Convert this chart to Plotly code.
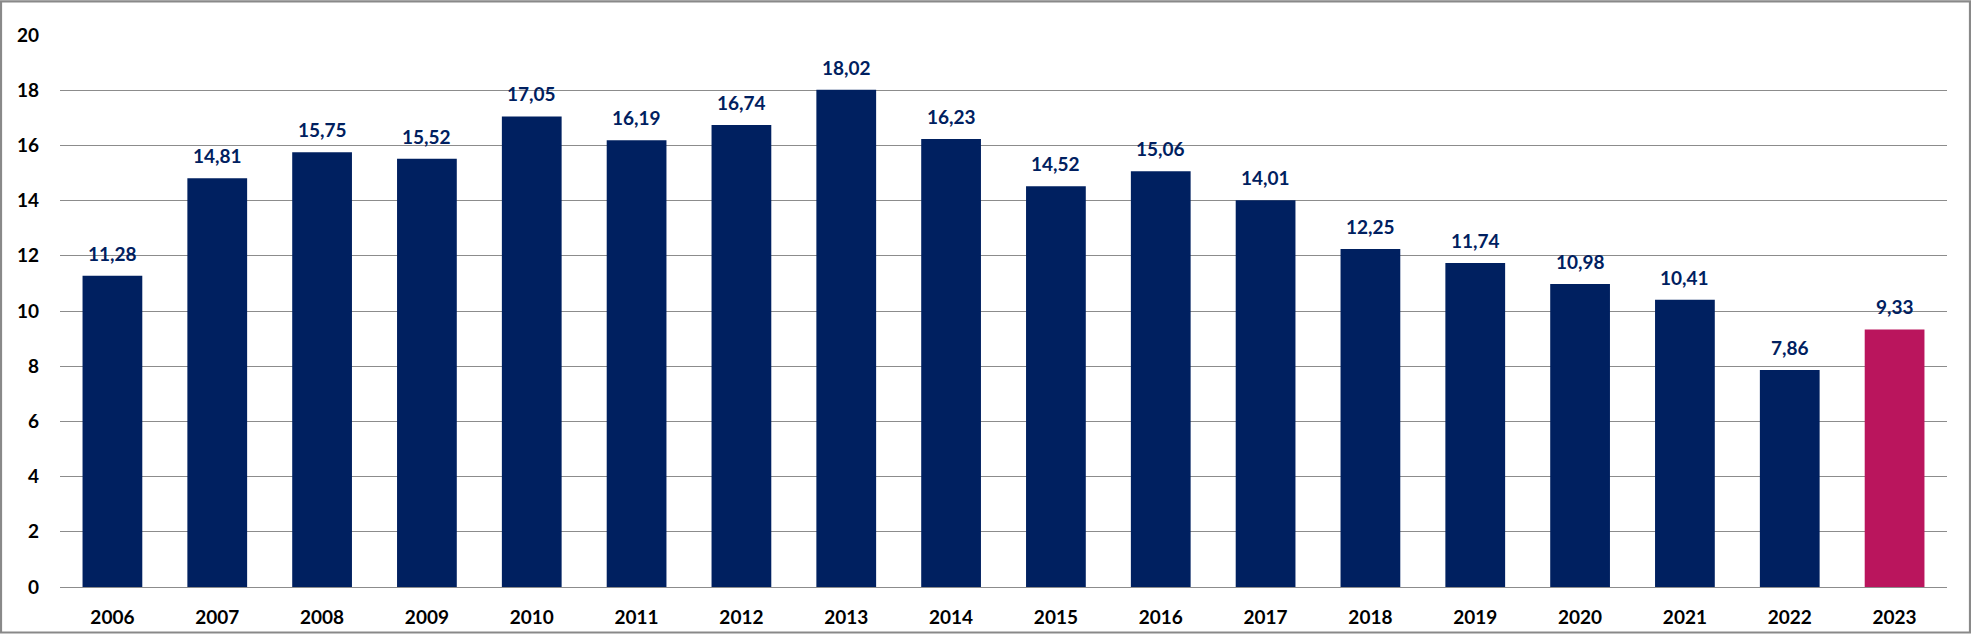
import plotly.graph_objects as go

years = ["2006", "2007", "2008", "2009", "2010", "2011", "2012", "2013", "2014",
         "2015", "2016", "2017", "2018", "2019", "2020", "2021", "2022", "2023"]
values = [11.28, 14.81, 15.75, 15.52, 17.05, 16.19, 16.74, 18.02, 16.23,
          14.52, 15.06, 14.01, 12.25, 11.74, 10.98, 10.41, 7.86, 9.33]
y_ticks = [0, 2, 4, 6, 8, 10, 12, 14, 16, 18, 20]

NAVY = "#002060"
PINK = "#BA155D"
colors = [NAVY] * (len(years) - 1) + [PINK]

FONT = "Lato"

fig = go.Figure()
fig.add_trace(go.Bar(
    x=years, y=values, marker=dict(color=colors, line=dict(width=0)),
    hoverinfo="skip", showlegend=False,
))

for i, v in enumerate(values):
    fig.add_annotation(
        x=i, y=v, text=f"{v:.2f}".replace(".", ","), showarrow=False,
        yanchor="bottom", yshift=9,
        font=dict(family=FONT, size=19, color=NAVY, weight="bold"),
    )

W, H = 1971, 640
ML, MR, MT, MB = 60, 24, 35, 47
pw = W - ML - MR
ph = H - MT - MB

fig.add_shape(
    type="rect", xref="paper", yref="paper",
    x0=(1 - ML) / pw, x1=(W - 1 - ML) / pw,
    y0=-(MB - 1) / ph, y1=(ph + MT - 1) / ph,
    line=dict(color="#898989", width=2.2), layer="above",
)

fig.update_layout(
    width=W, height=H,
    margin=dict(l=ML, r=MR, t=MT, b=MB),
    paper_bgcolor="white", plot_bgcolor="white",
    bargap=0.43,
    separators=", ",
    xaxis=dict(
        type="category", showgrid=False, showline=False, ticks="",
        tickfont=dict(family=FONT, size=19, color="#000000", weight="bold"),
        ticklabelstandoff=17,
    ),
    yaxis=dict(
        range=[0, 20], tickvals=y_ticks, showgrid=True,
        gridcolor="#8C8C8C", gridwidth=1.3, zeroline=True,
        zerolinecolor="#8C8C8C", zerolinewidth=1.3, showline=False,
        tickfont=dict(family=FONT, size=19, color="#000000", weight="bold"),
        ticks="", ticklabelstandoff=20,
    ),
)

fig.write_html(
    "out.html",
    config={"displayModeBar": False},
    post_script="document.body.style.margin='0';document.body.style.overflow='hidden';",
)
